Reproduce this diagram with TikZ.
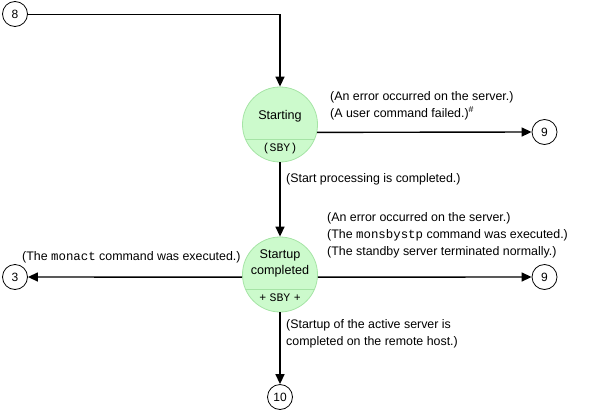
\documentclass[tikz,border=0pt]{standalone}
\usepackage{fontspec}
\setmainfont{Liberation Sans}
\setmonofont{Liberation Mono}
\usetikzlibrary{arrows.meta}
\definecolor{gfill}{RGB}{204,250,204}
\definecolor{gline}{RGB}{165,228,165}
\tikzset{
  big/.style={circle,draw=gline,fill=gfill,line width=0.8pt,minimum size=75pt,inner sep=0pt},
  small/.style={circle,draw=black,fill=white,line width=0.8pt,minimum size=25pt,inner sep=0pt,font=\fontsize{12}{14}\selectfont},
  arr/.style={line width=1.4pt,-{Triangle[length=10pt,width=9pt]}},
  lbl/.style={inner sep=0pt,font=\fontsize{12.6}{16}\selectfont,align=center},
  mono/.style={inner sep=0pt,font=\fontsize{11.5}{12}\selectfont\ttfamily},
  note/.style={inner sep=0pt,anchor=west,align=left,font=\fontsize{12.4}{16.8}\selectfont}
}
\begin{document}
\begin{tikzpicture}[x=1pt,y=-1pt]
\useasboundingbox (0,0) rectangle (593,415);
% main states
\node[big] (start) at (280,124.5) {};
\begin{scope}
  \clip (280,124.5) circle (37.5);
  \draw[gline,line width=0.8pt] (240,139) -- (320,139);
\end{scope}
\node[lbl] (startlbl) at (280,116) {Starting};
\node[mono] (startsby) at (280,148.5) {(SBY)};

\node[big] (comp) at (280,274.5) {};
\begin{scope}
  \clip (280,274.5) circle (37.5);
  \draw[gline,line width=0.8pt] (240,289) -- (320,289);
\end{scope}
\node[lbl] (complbl) at (280,263) {Startup\\completed};
\node[mono] (compsby) at (280,297.5) {+\hspace{3.5pt}SBY\hspace{3.5pt}+};

% connectors
\node[small] (s8) at (15,14) {8};
\node[small] (s9a) at (544.5,132) {9};
\node[small] (s3) at (15,277) {3};
\node[small] (s9b) at (544.5,277) {9};
\node[small] (s10) at (280,397) {10};

\draw[line width=1pt] (s8.east) -- (280,14) coordinate (corner);
\draw[arr] (corner) -- (start.north);
\draw[arr] (start.-12.5) -- (s9a.west);
\draw[arr] (start.south) -- (comp.north);
\draw[arr] (comp.184) -- (s3.east);
\draw[arr] (comp.-4) -- (s9b.west);
\draw[arr] (comp.south) -- (s10.north);

% notes
\node[note] (n1) at (330,105.5) {(An error occurred on the server.)\\(A user command failed.)\textsuperscript{\#}};
\node[note] (n2) at (286,179) {(Start processing is completed.)};
\node[note] (n3) at (22,257) {(The \texttt{monact} command was executed.)};
\node[note] (n4) at (327,235) {(An error occurred on the server.)\\(The \texttt{monsbystp} command was executed.)\\(The standby server terminated normally.)};
\node[note] (n5) at (286,333.5) {(Startup of the active server is\\completed on the remote host.)};
\end{tikzpicture}
\end{document}
